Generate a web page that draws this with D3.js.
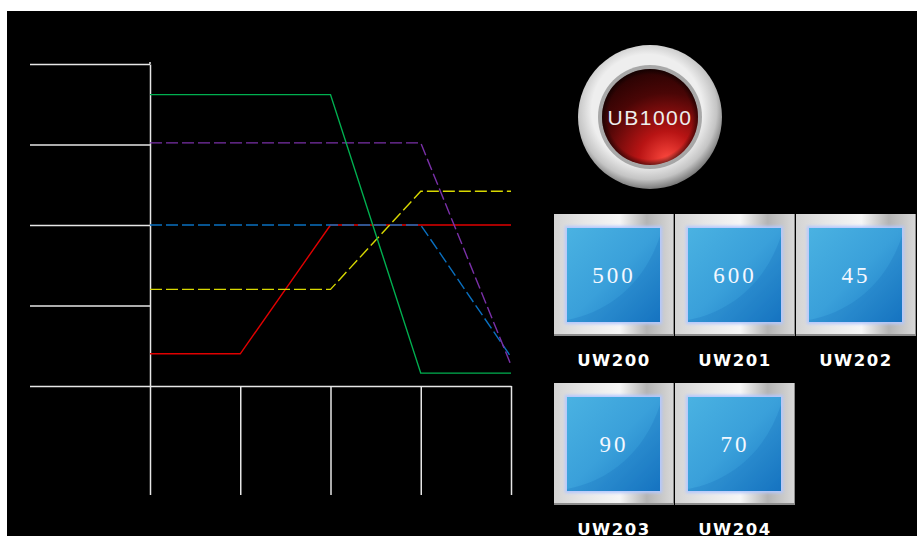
<!DOCTYPE html>
<html>
<head>
<meta charset="utf-8">
<script src="https://cdn.jsdelivr.net/npm/d3@7"></script>
<style>
  html, body { margin: 0; padding: 0; background: #fff; overflow: hidden; }
</style>
</head>
<body>
<script>
// chart data
var steps = [0, 1, 2, 3, 4];
var yTicks = [0, 25, 50, 75, 100];
var redValues = [10, 10, 50, 50, 50];
var yellowValues = [30, 30, 30, 60.5, 60.5];
var blueValues = [50, 50, 50, 50, 9];
var purpleValues = [75.5, 75.5, 75.5, 75.5, 6.5];
var greenValues = [90.5, 90.5, 90.5, 4, 4];

// panel data
var buttonLabel = "UB1000";
var tileValues = ["500", "600", "45", "90", "70"];
var tileLabels = ["UW200", "UW201", "UW202", "UW203", "UW204"];

var series = [
  {values: redValues, color: "#e00000", dash: null},
  {values: yellowValues, color: "#d8d800", dash: "12,4"},
  {values: blueValues, color: "#0a70c0", dash: "12,4"},
  {values: purpleValues, color: "#7a30a8", dash: "12,4"},
  {values: greenValues, color: "#00b050", dash: null}
];

var svg = d3.select("body").append("svg")
  .attr("width", 917)
  .attr("height", 536);

svg.append("rect")
  .attr("x", 7).attr("y", 11)
  .attr("width", 910).attr("height", 525)
  .attr("fill", "#000");

var defs = svg.append("defs");

var x = d3.scaleLinear().domain([0, 4]).range([150, 511]);
var y = d3.scaleLinear().domain([0, 100]).range([386, 64]);

// y axis: long ticks going left
var yAxis = d3.axisLeft(y).tickValues(yTicks).tickSize(120).tickSizeOuter(0).tickFormat("");
svg.append("g").attr("transform", "translate(150,0)").call(yAxis);

// x axis: long ticks going down
var xAxis = d3.axisBottom(x).tickValues(steps).tickSize(109).tickSizeOuter(0).tickFormat("");
svg.append("g").attr("transform", "translate(0,386)").call(xAxis);

svg.selectAll(".domain, .tick line")
  .attr("stroke", "#e6e6e6")
  .attr("stroke-width", 1.5);

svg.append("line")
  .attr("x1", 150).attr("x2", 150)
  .attr("y1", y(100) - 2).attr("y2", y(100))
  .attr("stroke", "#e6e6e6").attr("stroke-width", 1.5);

var line = d3.line()
  .x(function(d, i) { return x(steps[i]); })
  .y(function(d) { return y(d); });

svg.selectAll(".series").data(series).enter()
  .append("path")
  .attr("class", "series")
  .attr("d", function(d) { return line(d.values); })
  .attr("fill", "none")
  .attr("stroke", function(d) { return d.color; })
  .attr("stroke-width", 1.4)
  .attr("stroke-dasharray", function(d) { return d.dash; });

// round button
var ring = defs.append("radialGradient").attr("id", "ring")
  .attr("cx", "48%").attr("cy", "45%").attr("r", "55%");
ring.append("stop").attr("offset", "0.7").attr("stop-color", "#eeeeee");
ring.append("stop").attr("offset", "0.88").attr("stop-color", "#c4c4c4");
ring.append("stop").attr("offset", "1").attr("stop-color", "#7a7a7a");

var red = defs.append("radialGradient").attr("id", "redfill")
  .attr("cx", "68%").attr("cy", "95%").attr("r", "100%");
red.append("stop").attr("offset", "0").attr("stop-color", "#ff4a40");
red.append("stop").attr("offset", "0.3").attr("stop-color", "#b81414");
red.append("stop").attr("offset", "0.7").attr("stop-color", "#4a0606");
red.append("stop").attr("offset", "1").attr("stop-color", "#240202");

var innerShade = defs.append("radialGradient").attr("id", "innershade")
  .attr("cx", "50%").attr("cy", "50%").attr("r", "50%");
innerShade.append("stop").attr("offset", "0.88").attr("stop-color", "#000").attr("stop-opacity", 0);
innerShade.append("stop").attr("offset", "1").attr("stop-color", "#000").attr("stop-opacity", 0.5);

var btn = svg.append("g").attr("transform", "translate(650,117)");
btn.append("circle").attr("r", 72).attr("fill", "url(#ring)");
btn.append("circle").attr("r", 52).attr("fill", "#8a8a8a").attr("opacity", 0.7);
btn.append("circle").attr("r", 48).attr("fill", "url(#redfill)");
btn.append("circle").attr("r", 48).attr("fill", "url(#innershade)");
btn.append("text")
  .attr("y", 8)
  .attr("text-anchor", "middle")
  .attr("fill", "#eeeeee")
  .style("font-family", "'Liberation Sans', Arial, sans-serif")
  .style("font-size", "21px")
  .style("letter-spacing", "1.5px")
  .text(buttonLabel);

// tiles
var frameGrad = defs.append("linearGradient").attr("id", "frame")
  .attr("x1", 0).attr("x2", 1).attr("y1", 0).attr("y2", 0);
frameGrad.append("stop").attr("offset", "0").attr("stop-color", "#d4d4d4");
frameGrad.append("stop").attr("offset", "0.25").attr("stop-color", "#e6e6e6");
frameGrad.append("stop").attr("offset", "0.55").attr("stop-color", "#f6f6f6");
frameGrad.append("stop").attr("offset", "0.78").attr("stop-color", "#b4b4b4");
frameGrad.append("stop").attr("offset", "1").attr("stop-color", "#d8d8d8");

var blueGrad = defs.append("linearGradient").attr("id", "bluefill")
  .attr("x1", 0).attr("x2", 1).attr("y1", 0).attr("y2", 1);
blueGrad.append("stop").attr("offset", "0").attr("stop-color", "#4ab2e2");
blueGrad.append("stop").attr("offset", "0.5").attr("stop-color", "#3aa0da");
blueGrad.append("stop").attr("offset", "1").attr("stop-color", "#1878c4");

var glow = defs.append("filter").attr("id", "glow")
  .attr("x", "-10%").attr("y", "-10%").attr("width", "120%").attr("height", "120%");
glow.append("feGaussianBlur").attr("stdDeviation", 1.5);

var tilePos = [[554, 214], [675, 214], [796, 214], [554, 383], [675, 383]];

var tiles = svg.selectAll(".tile").data(tileValues).enter()
  .append("g")
  .attr("class", "tile")
  .attr("transform", function(d, i) { return "translate(" + tilePos[i][0] + "," + tilePos[i][1] + ")"; });

tiles.append("rect").attr("width", 120).attr("height", 122).attr("fill", "#8c8c8c");
tiles.append("rect").attr("width", 119).attr("height", 120).attr("fill", "url(#frame)");
tiles.append("rect").attr("x", 11).attr("y", 12).attr("width", 97).attr("height", 98)
  .attr("fill", "#b4c8ff").attr("filter", "url(#glow)");
tiles.append("rect").attr("x", 13).attr("y", 14).attr("width", 93).attr("height", 94)
  .attr("fill", "url(#bluefill)");
tiles.append("path")
  .attr("d", "M13,106 C55,98 90,70 106,22 L106,108 L13,108 Z")
  .attr("fill", "#0a5fb0").attr("opacity", 0.18);
tiles.append("text")
  .attr("x", 60).attr("y", 69)
  .attr("text-anchor", "middle")
  .attr("fill", "#f4f8ff")
  .style("font-family", "'Liberation Serif', 'Times New Roman', serif")
  .style("font-size", "23px")
  .style("letter-spacing", "3px")
  .text(function(d) { return d; });

// labels sit just under each tile; the bottom row is cut by the frame edge like the original
tiles.append("text")
  .attr("x", 60).attr("y", 152)
  .attr("text-anchor", "middle")
  .attr("fill", "#ffffff")
  .style("font-family", "'DejaVu Sans', sans-serif")
  .style("font-weight", "bold")
  .style("font-size", "16.5px")
  .style("letter-spacing", "1.5px")
  .text(function(d, i) { return tileLabels[i]; });
</script>
</body>
</html>
